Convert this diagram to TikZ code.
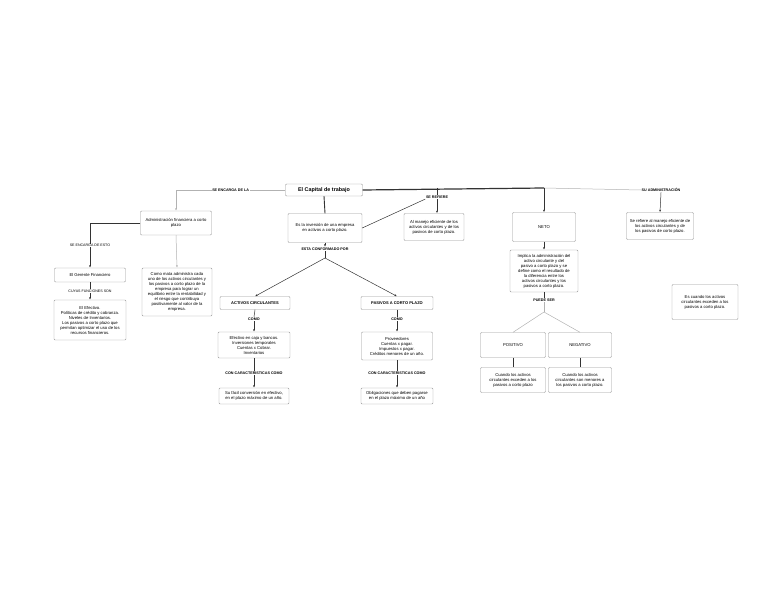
\documentclass[tikz,border=0pt]{standalone}
\usepackage{fontspec}
\setmainfont{Liberation Sans}
\usetikzlibrary{positioning,arrows.meta}

\begin{document}
\begin{tikzpicture}[
    x=1pt, y=-1pt,
    box/.style={draw=gray!80, fill=white, rounded corners=1pt, align=center,
      inner xsep=0.5pt, inner ysep=1pt, font=\fontsize{4.2}{5}\selectfont},
    sz/.style 2 args={minimum width=#1pt, minimum height=#2pt},
    lbl/.style={fill=white, inner sep=0.6pt, font=\bfseries\fontsize{3.7}{4.2}\selectfont},
    conn/.style={draw=black!80, line width=0.5pt},
    connl/.style={draw=gray!60, line width=0.5pt},
    >={Latex[length=2.5pt,width=2pt]}
]
\useasboundingbox (0,0) rectangle (768,593);

% main title and first level
\node[box, sz={77}{12}, font=\bfseries\fontsize{5.4}{6}\selectfont] (cap) at (324,190) {El Capital de trabajo};
\node[box, sz={71}{24}] (adm) at (176,223) {Administración financiera a corto\\ plazo};
\node[box, sz={74}{29}] (inv) at (325,228) {Es la inversión de una empresa\\ en activos a corto plazo.};
\node[box, sz={60}{27}] (man) at (434,227) {Al manejo eficiente de los\\ activos circulantes y de los\\ pasivos de corto plazo.};
\node[box, sz={63}{29}] (neto) at (544,227) {NETO};
\node[box, sz={67}{27}] (sead) at (660,226) {Se refiere al manejo eficiente de\\ los activos circulantes y de\\ los pasivos de corto plazo.};

% left branch
\node[box, sz={71}{14}] (ger) at (90,275) {El Gerente Financiero};
\node[box, sz={72}{40}] (fun) at (90,320) {El Efectivo.\\ Políticas de crédito y cobranza.\\ Niveles de Inventarios.\\ Los pasivos a corto plazo que\\ permitan optimizar el uso de los\\ recursos financieros.};
\node[box, sz={70}{48}] (mata) at (177,292) {Como mata administra cada\\ uno de los activos circulantes y\\ los pasivos a corto plazo de la\\ empresa para lograr un\\ equilibrio entre la rentabilidad y\\ el riesgo que contribuya\\ positivamente al valor de la\\ empresa.};

% activos / pasivos
\node[box, sz={70}{13}, font=\bfseries\fontsize{4}{4.8}\selectfont] (act) at (255,303) {ACTIVOS CIRCULANTES};
\node[box, sz={72}{26}] (efe) at (254,345) {Efectivo en caja y bancos.\\ Inversiones temporales\\ Cuentas x Cobrar.\\ Inventarios};
\node[box, sz={70}{16}] (fac) at (254,396) {Su fácil conversión en efectivo,\\ en el plazo máximo de un año.};
\node[box, sz={72}{13}, font=\bfseries\fontsize{4}{4.8}\selectfont] (pas) at (397,303) {PASIVOS A CORTO PLAZO};
\node[box, sz={71}{28}] (pro) at (397,346) {Proveedores\\ Cuentas x pagar.\\ Impuestos x pagar.\\ Créditos menores de un año.};
\node[box, sz={72}{16}] (obl) at (397,396) {Obligaciones que deben pagarse\\ en el plazo máximo de un año};

% neto branch
\node[box, sz={68}{42}] (imp) at (544,271) {Implica la administración del\\ activo circulante y del\\ pasivo a corto plazo y se\\ define como el resultado de\\ la diferencia entre los\\ activos circulantes y los\\ pasivos a corto plazo.};
\node[box, sz={65}{25}] (pos) at (513,345) {POSITIVO};
\node[box, sz={63}{25}] (neg) at (580,345) {NEGATIVO};
\node[box, sz={65}{25}] (cpos) at (513,380) {Cuando los activos\\ circulantes exceden a los\\ pasivos a corto plazo};
\node[box, sz={63}{25}] (cneg) at (580,380) {Cuando los activos\\ circulantes son menores a\\ los pasivos a corto plazo.};
\node[box, sz={66}{35}] (esc) at (705,302) {Es cuando los activos\\ circulantes exceden a los\\ pasivos a corto plazo.};

% labels
\node[lbl] (l4) at (325,249) {ESTA CONFORMADO POR};
\node[lbl] (l5) at (437,197) {SE REFIERE};
\node[lbl] (l6) at (661,190) {SU ADMINISTRACIÓN};
\node[lbl] (l7) at (544,300) {PUEDE SER};
\foreach \x/\n in {254/a, 397/p} {
  \node[lbl] (como\n) at (\x,319) {COMO};
  \node[lbl] (car\n) at (\x,373) {CON CARACTERISTICAS COMO};
}

\coordinate (t1) at (437,188);
\coordinate (t3) at (544,188);
\coordinate (cb) at (325,258);
\coordinate (cb2) at (544,312);

% connectors
\draw[connl, ->] (cap.west) -| node[lbl, pos=0.25] (l1) {SE ENCARGA DE LA} (adm.north);
\draw[conn, ->] (adm.west) -| node[lbl, pos=0.75, font=\fontsize{3.6}{4.2}\selectfont] (l2) {SE ENCARGA DE ESTO} (ger.north);
\draw[connl, ->] (adm.south) -- (mata.north);
\draw[conn, ->] (ger.south) -- node[lbl, font=\fontsize{3.6}{4.2}\selectfont] (l3) {CUYAS FUNCIONES SON} (fun.north);

\draw[conn, line width=0.9pt] (cap.south) -- (inv.north);
\draw[conn, ->] (inv.south) -- (l4.north);
\draw[conn] (l4.south) -- (cb);
\draw[conn, ->] (cb) -- (act.north);
\draw[conn, ->] (cb) -- (pas.north);
\draw[conn] (inv.east) -- (l5.south west);

\draw[conn, line width=1.2pt] (cap.east) -- (t3);
\draw[connl] (t3) -- (l6.west);
\draw[conn] (t1) -- (l5.north);
\draw[conn, ->] (l5.south) -- (l5.south |- man.north);
\draw[conn, ->] (t3) -- (neto.north);
\draw[conn, ->] (l6.south) -- (sead.north);

\draw[conn, ->] (neto.south) -- (imp.north);
\draw[conn] (imp.south) -- (l7.north);
\draw[connl] (l7.south) -- (cb2);
\draw[connl] (cb2) -- (pos.north);
\draw[connl] (cb2) -- (neg.north);
\draw[conn, line width=0.9pt] (pos.south) -- (cpos.north);
\draw[conn, line width=0.9pt] (neg.south) -- (cneg.north);

\foreach \n/\a/\b in {a/act/efe, p/pas/pro} {
  \draw[conn] (\a.south) -- (como\n.north);
  \draw[conn, ->] (como\n.south) -- (\b.north);
}
\draw[conn] (efe.south) -- (cara.north);
\draw[conn, ->] (cara.south) -- (fac.north);
\draw[conn] (pro.south) -- (carp.north);
\draw[conn, ->] (carp.south) -- (obl.north);

\end{tikzpicture}
\end{document}
